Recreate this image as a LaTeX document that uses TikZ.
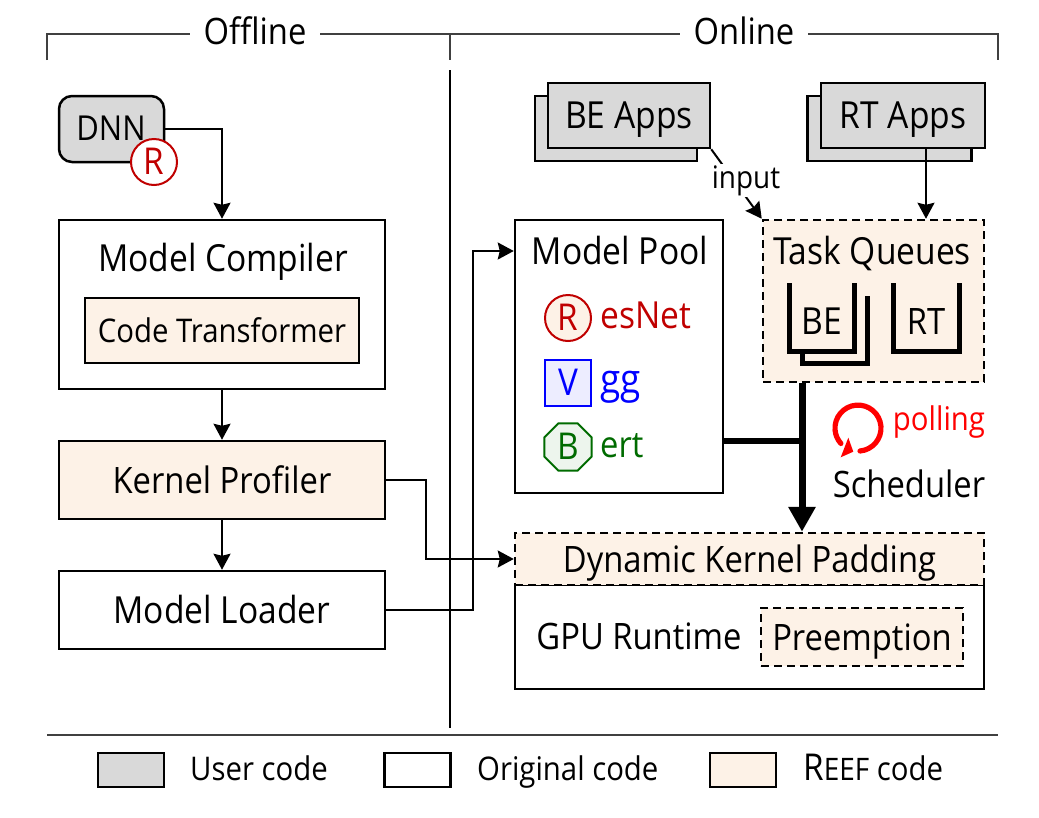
\documentclass[tikz,border=0pt]{standalone}
\usepackage{fontspec}
\setmainfont[FakeStretch=0.9]{Open Sans}
\usetikzlibrary{arrows.meta,shapes.geometric}
\definecolor{usergray}{HTML}{D9D9D9}
\definecolor{reefcream}{HTML}{FDF2E7}
\definecolor{resred}{HTML}{C00000}
\definecolor{vggblue}{HTML}{0000FF}
\definecolor{bertgreen}{HTML}{006B00}
\tikzset{
  bigtxt/.style={font=\fontsize{37.3}{40}\selectfont,inner sep=0pt,text height=26.6pt,text depth=0pt},
  midtxt/.style={font=\fontsize{36.4}{40}\selectfont,inner sep=0pt,text height=26pt,text depth=0pt},
  smalltxt/.style={font=\fontsize{32.6}{36}\selectfont,inner sep=0pt,text height=23pt,text depth=0pt},
  box/.style={draw,line width=2.5pt,inner sep=0pt,bigtxt},
  userbox/.style={box,fill=usergray},
  reefbox/.style={box,fill=reefcream},
  dashbox/.style={reefbox,line width=2.5pt,dash pattern=on 8pt off 5pt},
  arrow/.style={-{Stealth[length=16pt,width=17pt,inset=2pt]},line width=2pt},
  queue/.style={line width=5pt},
  framerule/.style={line width=1.3pt,black!75},
  tag/.style={line width=2pt,smalltxt,font=\fontsize{37}{40}\selectfont,text height=25pt},
}
\begin{document}
\begin{tikzpicture}[x=1pt,y=-1pt]
\useasboundingbox (0,0) rectangle (1039,817);

% frame
\node[midtxt] (offline) at (255,31) {Offline};
\node[midtxt] (online) at (744,31) {Online};
\draw[framerule] (47,60) |- (190,34);
\draw[framerule] (320,34) -- (680,34);
\draw[framerule] (808,34) -| (998,60);
\draw[framerule] (450,34) -- (450,60);
\draw[line width=1.1pt] (450,70) -- (450,728);
\draw[framerule] (47,735) -- (998,735);

% offline
\node[userbox,rounded corners=13pt,minimum width=105,minimum height=66] (dnn) at (111.5,129) {};
\node[smalltxt,font=\fontsize{34.4}{38}\selectfont] (dnnname) at (111,128.5) {DNN};
\node[tag,draw=resred,text=resred,fill=white,circle,minimum size=46] (dnnr) at (154,162) {R};
\node[box,minimum width=326,minimum height=169] (compiler) at (222,304.5) {};
\node[bigtxt] (compilername) at (223,258) {Model Compiler};
\node[reefbox,smalltxt,minimum width=274,minimum height=65] (transformer) at (222,330.5) {Code Transformer};
\node[reefbox,midtxt,minimum width=326,minimum height=78] (profiler) at (222,480) {Kernel Profiler};
\node[box,minimum width=326,minimum height=78] (loader) at (222,610) {Model Loader};

% online
\node[userbox,minimum width=162,minimum height=65] (beback) at (616,128.5) {};
\node[userbox,minimum width=162,minimum height=65] (befront) at (629,115.5) {BE Apps};
\node[userbox,minimum width=164,minimum height=65] (rtback) at (889.5,128.5) {};
\node[userbox,minimum width=164,minimum height=65] (rtfront) at (903,115.5) {RT Apps};

\node[box,minimum width=208,minimum height=273] (pool) at (619,356.5) {};
\node[bigtxt] (poolname) at (620,251) {Model Pool};
\node[tag,draw=resred,text=resred,fill=reefcream,circle,minimum size=46] (resicon) at (568,318) {R};
\node[bigtxt,text=resred,anchor=west] (resname) at (600,315) {esNet};
\node[tag,draw=vggblue,text=vggblue,fill=vggblue!7,minimum size=46] (vggicon) at (568,383) {V};
\node[bigtxt,text=vggblue,anchor=west,font=\fontsize{41}{44}\selectfont] (vggname) at (600,380) {gg};
\node[tag,draw=bertgreen,text=bertgreen,fill=bertgreen!7,regular polygon,regular polygon sides=8,minimum size=51] (berticon) at (568,447) {B};
\node[midtxt,text=bertgreen,anchor=west] (bertname) at (600,444) {ert};

\node[dashbox,minimum width=221,minimum height=162] (task) at (873.5,301) {};
\node[bigtxt] (taskname) at (872,251) {Task Queues};
\node[midtxt,font=\fontsize{37.3}{40}\selectfont] (beq) at (822,321) {BE};
\node[midtxt] (rtq) at (926,321) {RT};
\draw[queue] (789,283) |- (854,351) -- (854,283);
\draw[queue] (802,351) |- (867,363) -- (867,296);
\draw[queue] (893,283) |- (959,351) -- (959,283);

\node[box,minimum width=469,minimum height=104] (runtime) at (749.5,637) {};
\node[dashbox,midtxt,minimum width=469,minimum height=52] (pad) at (749.5,559) {Dynamic Kernel Padding};
\node[midtxt] (runtimename) at (639,636) {GPU Runtime};
\node[dashbox,midtxt,minimum width=202,minimum height=58] (preempt) at (862,637) {Preemption};

\node[smalltxt,text=red,anchor=base] (polling) at (939,430) {polling};
\node[midtxt] (scheduler) at (909,484) {Scheduler};
\coordinate (pollstart) at (860,451);
\draw[red,line width=5.2pt,line cap=round] (pollstart) arc[start angle=-85,end angle=222,radius=23pt];
\fill[red] (840.7,457.3) -- (848.3,437.7) -- (853.3,451.7) -- cycle;

% connectors
\draw[arrow] (dnn.east) -| (compiler.north);
\draw[arrow] (compiler.south) -- (profiler.north);
\draw[arrow] (profiler.south) -- (loader.north);
\draw[arrow] (profiler.east) -- ++(40,0) |- (pad.west);
\draw[arrow] (loader.east) -- ++(87,0) |- (poolname -| pool.west);
\draw[arrow] (befront.south east) -- (task.north west);
\node[fill=white,inner sep=2pt,font=\fontsize{31}{34}\selectfont,text height=22pt,text depth=7pt,anchor=base] (input) at (746,188) {input};
\draw[arrow] (rtq |- rtfront.south) -- (rtq |- task.north);
\coordinate (merge) at (802,441);
\draw[line width=6pt] (pool.east |- merge) -- (merge);
\draw[-{Stealth[length=25pt,width=26pt,inset=0pt]},line width=7pt] (merge |- task.south) -- (merge |- pad.north);

% legend
\node[userbox,minimum width=66,minimum height=34] (keyuser) at (131,770) {};
\node[box,minimum width=66,minimum height=34] (keyorig) at (417.5,770) {};
\node[reefbox,minimum width=66,minimum height=34] (keyreef) at (743,770) {};
\node[smalltxt,anchor=west] (userlabel) at (190,768.5) {User code};
\node[smalltxt,anchor=west] (origlabel) at (477,768.5) {Original code};
\node[smalltxt,anchor=west] (reeflabel) at (803,768.5) {{\fontsize{37}{36}\selectfont R}{\fontsize{31}{36}\selectfont EEF} code};
\end{tikzpicture}
\end{document}
